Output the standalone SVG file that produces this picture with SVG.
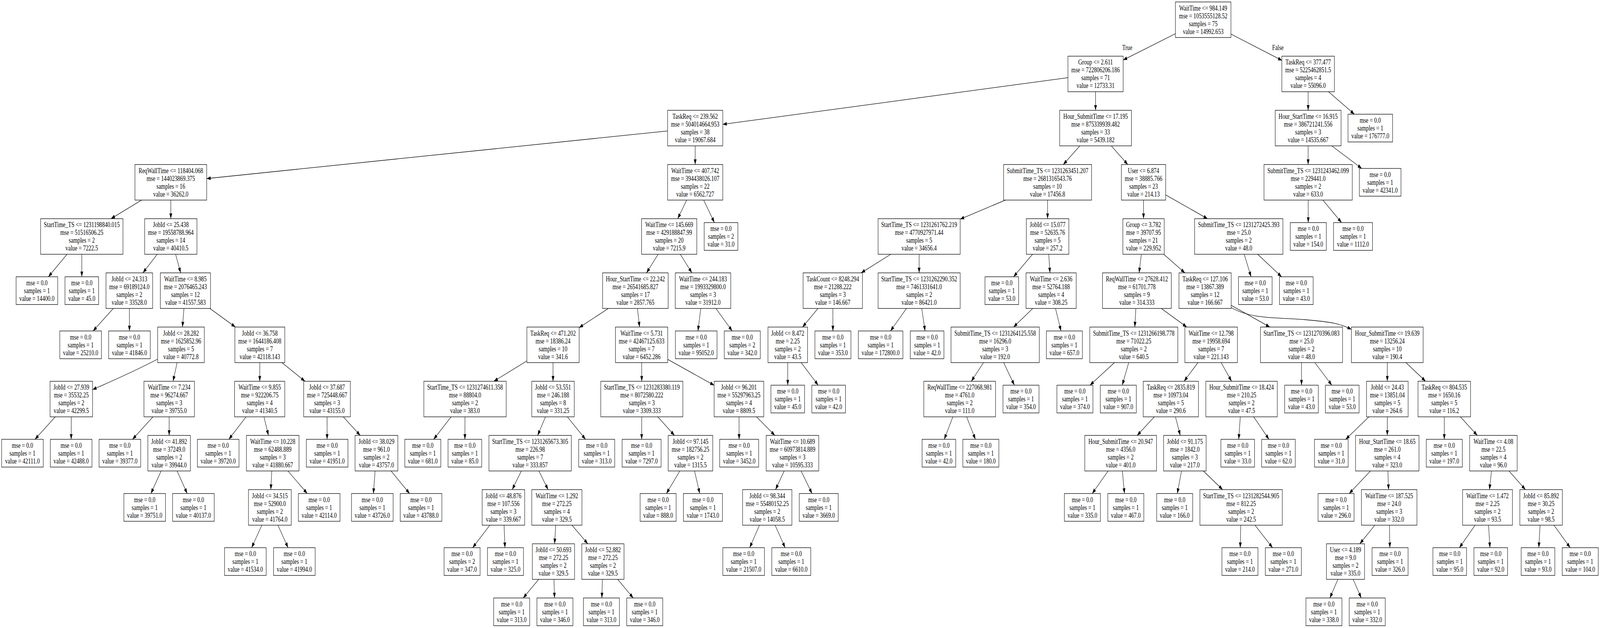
<svg xmlns="http://www.w3.org/2000/svg" width="5419" height="1607" viewBox="0 0 5419 1607" preserveAspectRatio="none">
<defs>
<style>
svg{width:100vw;height:100vh}
.nd rect{fill:#fff;stroke:#000;stroke-width:1.3}
.nd text,.lbl{font-family:"Liberation Serif","Times New Roman",serif;font-size:18.4px;text-anchor:middle;fill:#000}
#edges line,#edges path{stroke:#000;stroke-width:1.3;fill:none;marker-end:url(#ah)}
</style>
<marker id="ah" markerUnits="userSpaceOnUse" viewBox="0 0 13.3 9.4" markerWidth="13.3" markerHeight="9.4" refX="13.3" refY="4.7" orient="auto" overflow="visible"><path d="M0,0L13.3,4.7L0,9.4z" fill="#000"/></marker>
</defs>
<rect width="5419" height="1607" fill="#fff"/>
<g id="edges">
<line x1="4075" y1="50.5" x2="3804" y2="153.6"/>
<line x1="4075" y1="50.5" x2="4342" y2="154.7"/>
<line x1="3710.5" y1="189.2" x2="2448" y2="318.2"/>
<line x1="3710.5" y1="189.2" x2="3710.5" y2="282.3"/>
<line x1="4430.5" y1="189.2" x2="4430.5" y2="282.3"/>
<line x1="4430.5" y1="189.2" x2="4587.1" y2="292.3"/>
<line x1="2354.5" y1="327.8" x2="700" y2="457"/>
<line x1="2354.5" y1="327.8" x2="2354.5" y2="421"/>
<line x1="3710.5" y1="327.8" x2="3601.3" y2="421"/>
<line x1="3710.5" y1="327.8" x2="3819.7" y2="421"/>
<line x1="4430.5" y1="327.8" x2="4430.5" y2="421"/>
<line x1="4430.5" y1="327.8" x2="4612" y2="431"/>
<line x1="578.5" y1="466.5" x2="375.9" y2="559.6"/>
<line x1="578.5" y1="466.5" x2="578.5" y2="559.6"/>
<line x1="2354.5" y1="466.5" x2="2295.4" y2="559.6"/>
<line x1="2354.5" y1="466.5" x2="2419.6" y2="569.6"/>
<line x1="3548" y1="466.5" x2="3252" y2="560.8"/>
<line x1="3548" y1="466.5" x2="3548" y2="559.6"/>
<line x1="3873" y1="466.5" x2="3873" y2="559.6"/>
<line x1="3873" y1="466.5" x2="4089.7" y2="559.6"/>
<line x1="4430.5" y1="466.5" x2="4430.9" y2="569.6"/>
<line x1="4430.5" y1="466.5" x2="4543.6" y2="569.6"/>
<line x1="277" y1="605.1" x2="163.9" y2="708.3"/>
<line x1="277" y1="605.1" x2="277" y2="708.3"/>
<line x1="578.5" y1="605.1" x2="484.1" y2="698.3"/>
<line x1="578.5" y1="605.1" x2="611.8" y2="698.3"/>
<line x1="2266.5" y1="605.1" x2="2189.6" y2="698.3"/>
<line x1="2266.5" y1="605.1" x2="2343.4" y2="698.3"/>
<line x1="3113" y1="605.1" x2="2916.5" y2="698.3"/>
<line x1="3113" y1="605.1" x2="3113" y2="698.3"/>
<line x1="3548" y1="605.1" x2="3432.7" y2="708.3"/>
<line x1="3548" y1="605.1" x2="3556.1" y2="698.3"/>
<line x1="3873" y1="605.1" x2="3857.9" y2="698.3"/>
<line x1="3873" y1="605.1" x2="4013.1" y2="698.3"/>
<line x1="4195.5" y1="605.1" x2="4237.2" y2="708.3"/>
<line x1="4195.5" y1="605.1" x2="4340.6" y2="708.3"/>
<line x1="438" y1="743.8" x2="315.2" y2="846.9"/>
<line x1="438" y1="743.8" x2="438.4" y2="846.9"/>
<line x1="628" y1="743.8" x2="617.9" y2="836.9"/>
<line x1="628" y1="743.8" x2="797.3" y2="836.9"/>
<line x1="2152" y1="743.8" x2="1961.5" y2="838.4"/>
<line x1="2152" y1="743.8" x2="2166.1" y2="836.9"/>
<line x1="2381" y1="743.8" x2="2363.9" y2="846.9"/>
<line x1="2381" y1="743.8" x2="2479.9" y2="846.9"/>
<line x1="2820.5" y1="743.8" x2="2718" y2="836.9"/>
<line x1="2820.5" y1="743.8" x2="2820.9" y2="846.9"/>
<line x1="3113" y1="743.8" x2="3015.9" y2="846.9"/>
<line x1="3113" y1="743.8" x2="3133.1" y2="846.9"/>
<line x1="3560" y1="743.8" x2="3432.7" y2="836.9"/>
<line x1="3560" y1="743.8" x2="3593.5" y2="846.9"/>
<line x1="3850.5" y1="743.8" x2="3843.4" y2="836.9"/>
<line x1="3850.5" y1="743.8" x2="4019.5" y2="836.9"/>
<line x1="4081.5" y1="743.8" x2="4300.9" y2="836.9"/>
<path d="M4170,787C4240,818 4330,812 4420,818S4540,828 4577,843"/>
<path d="M534,919Q450,952 313.5,997"/>
<line x1="613" y1="882.4" x2="586.1" y2="975.6"/>
<line x1="880" y1="882.4" x2="879.7" y2="975.6"/>
<line x1="880" y1="882.4" x2="1032.9" y2="975.6"/>
<line x1="1873" y1="882.4" x2="1672.8" y2="975.6"/>
<line x1="1873" y1="882.4" x2="1873" y2="975.6"/>
<line x1="2173" y1="882.4" x2="2173.5" y2="975.6"/>
<line x1="2173" y1="882.4" x2="2418.7" y2="985.8"/>
<line x1="2668" y1="882.4" x2="2668" y2="985.6"/>
<line x1="2668" y1="882.4" x2="2771" y2="985.6"/>
<line x1="3370.5" y1="882.4" x2="3289.7" y2="975.6"/>
<line x1="3370.5" y1="882.4" x2="3435.6" y2="985.6"/>
<line x1="3840" y1="882.4" x2="3691.7" y2="985.6"/>
<line x1="3840" y1="882.4" x2="3801" y2="985.6"/>
<line x1="4102" y1="882.4" x2="4010.3" y2="975.6"/>
<line x1="4102" y1="882.4" x2="4171.2" y2="975.6"/>
<line x1="4408" y1="882.4" x2="4408" y2="985.6"/>
<line x1="4408" y1="882.4" x2="4510.7" y2="985.6"/>
<line x1="4698.5" y1="882.4" x2="4698.6" y2="975.6"/>
<line x1="4698.5" y1="882.4" x2="4828.2" y2="975.6"/>
<line x1="241.5" y1="1021.1" x2="118.4" y2="1124.2"/>
<line x1="241.5" y1="1021.1" x2="241.1" y2="1124.2"/>
<line x1="573" y1="1021.1" x2="448.8" y2="1124.2"/>
<line x1="573" y1="1021.1" x2="572.9" y2="1114.2"/>
<line x1="879.5" y1="1021.1" x2="775" y2="1124.2"/>
<line x1="879.5" y1="1021.1" x2="909.2" y2="1114.2"/>
<line x1="1107.6" y1="1021.1" x2="1107.9" y2="1124.2"/>
<line x1="1107.6" y1="1021.1" x2="1220.1" y2="1114.2"/>
<line x1="1575" y1="1021.1" x2="1468.6" y2="1124.2"/>
<line x1="1575" y1="1021.1" x2="1574.6" y2="1124.2"/>
<line x1="1873" y1="1021.1" x2="1820.9" y2="1114.2"/>
<line x1="1873" y1="1021.1" x2="1983.1" y2="1124.2"/>
<line x1="2173.7" y1="1021.1" x2="2173.2" y2="1124.2"/>
<line x1="2173.7" y1="1021.1" x2="2284.4" y2="1114.2"/>
<line x1="2502.7" y1="1021.1" x2="2503.3" y2="1124.2"/>
<line x1="2502.7" y1="1021.1" x2="2624.5" y2="1114.2"/>
<line x1="3250.3" y1="1021.1" x2="3198" y2="1124.2"/>
<line x1="3250.3" y1="1021.1" x2="3303.6" y2="1124.2"/>
<line x1="3965.5" y1="1021.1" x2="3851.3" y2="1114.2"/>
<line x1="3965.5" y1="1021.1" x2="3997.4" y2="1114.2"/>
<line x1="4205" y1="1021.1" x2="4195.3" y2="1124.2"/>
<line x1="4205" y1="1021.1" x2="4298" y2="1124.2"/>
<line x1="4698.7" y1="1021.1" x2="4557.6" y2="1124.2"/>
<line x1="4698.7" y1="1021.1" x2="4698.6" y2="1114.2"/>
<line x1="4891.6" y1="1021.1" x2="4891.6" y2="1124.2"/>
<line x1="4891.6" y1="1021.1" x2="5003.4" y2="1114.2"/>
<line x1="572.8" y1="1159.7" x2="511.2" y2="1262.9"/>
<line x1="572.8" y1="1159.7" x2="634" y2="1262.9"/>
<line x1="923.7" y1="1159.7" x2="917.2" y2="1252.9"/>
<line x1="923.7" y1="1159.7" x2="1040.7" y2="1262.9"/>
<line x1="1275" y1="1159.7" x2="1264.6" y2="1262.9"/>
<line x1="1275" y1="1159.7" x2="1387.3" y2="1262.9"/>
<line x1="1795.5" y1="1159.7" x2="1734.7" y2="1252.9"/>
<line x1="1795.5" y1="1159.7" x2="1856.3" y2="1252.9"/>
<line x1="2338.5" y1="1159.7" x2="2257" y2="1262.9"/>
<line x1="2338.5" y1="1159.7" x2="2369.9" y2="1262.9"/>
<line x1="2684" y1="1159.7" x2="2626.6" y2="1252.9"/>
<line x1="2684" y1="1159.7" x2="2750.2" y2="1262.9"/>
<line x1="3795.5" y1="1159.7" x2="3699.2" y2="1262.9"/>
<line x1="3795.5" y1="1159.7" x2="3808.5" y2="1262.9"/>
<line x1="4013" y1="1159.7" x2="3987.3" y2="1262.9"/>
<line x1="4013" y1="1159.7" x2="4141" y2="1252.9"/>
<line x1="4698.5" y1="1159.7" x2="4569.4" y2="1262.9"/>
<line x1="4698.5" y1="1159.7" x2="4702.9" y2="1252.9"/>
<line x1="5058" y1="1159.7" x2="5044.6" y2="1252.9"/>
<line x1="5058" y1="1159.7" x2="5166.5" y2="1252.9"/>
<line x1="914" y1="1298.4" x2="852.3" y2="1401.5"/>
<line x1="914" y1="1298.4" x2="975.7" y2="1401.5"/>
<line x1="1705" y1="1298.4" x2="1600.8" y2="1401.5"/>
<line x1="1705" y1="1298.4" x2="1710.2" y2="1401.5"/>
<line x1="1886" y1="1298.4" x2="1878.3" y2="1391.5"/>
<line x1="1886" y1="1298.4" x2="1990.8" y2="1391.5"/>
<line x1="2598.5" y1="1298.4" x2="2539.1" y2="1401.5"/>
<line x1="2598.5" y1="1298.4" x2="2659.1" y2="1401.5"/>
<line x1="4203.5" y1="1298.4" x2="4200.5" y2="1401.5"/>
<line x1="4203.5" y1="1298.4" x2="4309.9" y2="1401.5"/>
<line x1="4705" y1="1298.4" x2="4605.6" y2="1391.5"/>
<line x1="4705" y1="1298.4" x2="4707.2" y2="1401.5"/>
<line x1="5038" y1="1298.4" x2="4942.8" y2="1401.5"/>
<line x1="5038" y1="1298.4" x2="5046.2" y2="1401.5"/>
<line x1="5219.5" y1="1298.4" x2="5211.7" y2="1401.5"/>
<line x1="5219.5" y1="1298.4" x2="5318.1" y2="1401.5"/>
<line x1="1874.5" y1="1437" x2="1772" y2="1530.2"/>
<line x1="1874.5" y1="1437" x2="1878.1" y2="1530.2"/>
<line x1="2042" y1="1437" x2="2038.4" y2="1530.2"/>
<line x1="2042" y1="1437" x2="2144.6" y2="1530.2"/>
<line x1="4557" y1="1437" x2="4504.1" y2="1530.2"/>
<line x1="4557" y1="1437" x2="4610.3" y2="1530.2"/>
</g>
<text class="lbl" x="3818" y="128.5">True</text>
<text class="lbl" x="4328" y="128.5">False</text>
<g id="n0" class="nd"><rect x="3981" y="5" width="188" height="91"/><text x="4075" y="26.7">WaitTime &lt;= 984.149<tspan x="4075" dy="20">mse = 1053555128.52</tspan><tspan x="4075" dy="20">samples = 75</tspan><tspan x="4075" dy="20">value = 14992.653</tspan></text></g>
<g id="n1" class="nd"><rect x="3617" y="143.7" width="187" height="91"/><text x="3710.5" y="165.4">Group &lt;= 2.611<tspan x="3710.5" dy="20">mse = 722806206.186</tspan><tspan x="3710.5" dy="20">samples = 71</tspan><tspan x="3710.5" dy="20">value = 12733.31</tspan></text></g>
<g id="n2" class="nd"><rect x="4341.5" y="143.7" width="178" height="91"/><text x="4430.5" y="165.4">TaskReq &lt;= 377.477<tspan x="4430.5" dy="20">mse = 5225462851.5</tspan><tspan x="4430.5" dy="20">samples = 4</tspan><tspan x="4430.5" dy="20">value = 55096.0</tspan></text></g>
<g id="n3" class="nd"><rect x="2261" y="282.3" width="187" height="91"/><text x="2354.5" y="304">TaskReq &lt;= 239.562<tspan x="2354.5" dy="20">mse = 504014664.953</tspan><tspan x="2354.5" dy="20">samples = 38</tspan><tspan x="2354.5" dy="20">value = 19067.684</tspan></text></g>
<g id="n4" class="nd"><rect x="3589" y="282.3" width="243" height="91"/><text x="3710.5" y="304">Hour_SubmitTime &lt;= 17.195<tspan x="3710.5" dy="20">mse = 875339939.482</tspan><tspan x="3710.5" dy="20">samples = 33</tspan><tspan x="3710.5" dy="20">value = 5439.182</tspan></text></g>
<g id="n5" class="nd"><rect x="4319" y="282.3" width="223" height="91"/><text x="4430.5" y="304">Hour_StartTime &lt;= 16.915<tspan x="4430.5" dy="20">mse = 386721241.556</tspan><tspan x="4430.5" dy="20">samples = 3</tspan><tspan x="4430.5" dy="20">value = 14535.667</tspan></text></g>
<g id="n6" class="nd"><rect x="4565.5" y="292.3" width="151" height="71"/><text x="4641" y="314">mse = 0.0<tspan x="4641" dy="20">samples = 1</tspan><tspan x="4641" dy="20">value = 176777.0</tspan></text></g>
<g id="n7" class="nd"><rect x="457" y="421" width="243" height="91"/><text x="578.5" y="442.7">ReqWallTime &lt;= 118404.068<tspan x="578.5" dy="20">mse = 144023869.375</tspan><tspan x="578.5" dy="20">samples = 16</tspan><tspan x="578.5" dy="20">value = 36262.0</tspan></text></g>
<g id="n8" class="nd"><rect x="2261" y="421" width="187" height="91"/><text x="2354.5" y="442.7">WaitTime &lt;= 407.742<tspan x="2354.5" dy="20">mse = 394438026.107</tspan><tspan x="2354.5" dy="20">samples = 22</tspan><tspan x="2354.5" dy="20">value = 6562.727</tspan></text></g>
<g id="n9" class="nd"><rect x="3399" y="421" width="298" height="91"/><text x="3548" y="442.7">SubmitTime_TS &lt;= 1231263451.207<tspan x="3548" dy="20">mse = 2681316543.76</tspan><tspan x="3548" dy="20">samples = 10</tspan><tspan x="3548" dy="20">value = 17456.8</tspan></text></g>
<g id="n10" class="nd"><rect x="3798" y="421" width="150" height="91"/><text x="3873" y="442.7">User &lt;= 6.874<tspan x="3873" dy="20">mse = 38885.766</tspan><tspan x="3873" dy="20">samples = 23</tspan><tspan x="3873" dy="20">value = 214.13</tspan></text></g>
<g id="n11" class="nd"><rect x="4281" y="421" width="299" height="91"/><text x="4430.5" y="442.7">SubmitTime_TS &lt;= 1231243462.099<tspan x="4430.5" dy="20">mse = 229441.0</tspan><tspan x="4430.5" dy="20">samples = 2</tspan><tspan x="4430.5" dy="20">value = 633.0</tspan></text></g>
<g id="n12" class="nd"><rect x="4604" y="431" width="141" height="71"/><text x="4674.5" y="452.7">mse = 0.0<tspan x="4674.5" dy="20">samples = 1</tspan><tspan x="4674.5" dy="20">value = 42341.0</tspan></text></g>
<g id="n13" class="nd"><rect x="137.5" y="559.6" width="279" height="91"/><text x="277" y="581.3">StartTime_TS &lt;= 1231198840.015<tspan x="277" dy="20">mse = 51516506.25</tspan><tspan x="277" dy="20">samples = 2</tspan><tspan x="277" dy="20">value = 7222.5</tspan></text></g>
<g id="n14" class="nd"><rect x="490" y="559.6" width="177" height="91"/><text x="578.5" y="581.3">JobId &lt;= 25.438<tspan x="578.5" dy="20">mse = 19558788.964</tspan><tspan x="578.5" dy="20">samples = 14</tspan><tspan x="578.5" dy="20">value = 40410.5</tspan></text></g>
<g id="n15" class="nd"><rect x="2173" y="559.6" width="187" height="91"/><text x="2266.5" y="581.3">WaitTime &lt;= 145.669<tspan x="2266.5" dy="20">mse = 429188847.99</tspan><tspan x="2266.5" dy="20">samples = 20</tspan><tspan x="2266.5" dy="20">value = 7215.9</tspan></text></g>
<g id="n16" class="nd"><rect x="2385" y="569.6" width="114" height="71"/><text x="2442" y="591.3">mse = 0.0<tspan x="2442" dy="20">samples = 2</tspan><tspan x="2442" dy="20">value = 31.0</tspan></text></g>
<g id="n17" class="nd"><rect x="2974" y="559.6" width="278" height="91"/><text x="3113" y="581.3">StartTime_TS &lt;= 1231261762.219<tspan x="3113" dy="20">mse = 4770927971.44</tspan><tspan x="3113" dy="20">samples = 5</tspan><tspan x="3113" dy="20">value = 34656.4</tspan></text></g>
<g id="n18" class="nd"><rect x="3476" y="559.6" width="144" height="91"/><text x="3548" y="581.3">JobId &lt;= 15.077<tspan x="3548" dy="20">mse = 52635.76</tspan><tspan x="3548" dy="20">samples = 5</tspan><tspan x="3548" dy="20">value = 257.2</tspan></text></g>
<g id="n19" class="nd"><rect x="3803" y="559.6" width="140" height="91"/><text x="3873" y="581.3">Group &lt;= 3.782<tspan x="3873" dy="20">mse = 39707.95</tspan><tspan x="3873" dy="20">samples = 21</tspan><tspan x="3873" dy="20">value = 229.952</tspan></text></g>
<g id="n20" class="nd"><rect x="4046" y="559.6" width="299" height="91"/><text x="4195.5" y="581.3">SubmitTime_TS &lt;= 1231272425.393<tspan x="4195.5" dy="20">mse = 25.0</tspan><tspan x="4195.5" dy="20">samples = 2</tspan><tspan x="4195.5" dy="20">value = 48.0</tspan></text></g>
<g id="n21" class="nd"><rect x="4370" y="569.6" width="122" height="71"/><text x="4431" y="591.3">mse = 0.0<tspan x="4431" dy="20">samples = 1</tspan><tspan x="4431" dy="20">value = 154.0</tspan></text></g>
<g id="n22" class="nd"><rect x="4516.5" y="569.6" width="132" height="71"/><text x="4582.5" y="591.3">mse = 0.0<tspan x="4582.5" dy="20">samples = 1</tspan><tspan x="4582.5" dy="20">value = 1112.0</tspan></text></g>
<g id="n23" class="nd"><rect x="54.5" y="708.3" width="141" height="71"/><text x="125" y="730">mse = 0.0<tspan x="125" dy="20">samples = 1</tspan><tspan x="125" dy="20">value = 14400.0</tspan></text></g>
<g id="n24" class="nd"><rect x="220" y="708.3" width="114" height="71"/><text x="277" y="730">mse = 0.0<tspan x="277" dy="20">samples = 1</tspan><tspan x="277" dy="20">value = 45.0</tspan></text></g>
<g id="n25" class="nd"><rect x="359" y="698.3" width="158" height="91"/><text x="438" y="720">JobId &lt;= 24.313<tspan x="438" dy="20">mse = 69189124.0</tspan><tspan x="438" dy="20">samples = 2</tspan><tspan x="438" dy="20">value = 33528.0</tspan></text></g>
<g id="n26" class="nd"><rect x="543" y="698.3" width="170" height="91"/><text x="628" y="720">WaitTime &lt;= 8.985<tspan x="628" dy="20">mse = 2076465.243</tspan><tspan x="628" dy="20">samples = 12</tspan><tspan x="628" dy="20">value = 41557.583</tspan></text></g>
<g id="n27" class="nd"><rect x="2041" y="698.3" width="222" height="91"/><text x="2152" y="720">Hour_StartTime &lt;= 22.242<tspan x="2152" dy="20">mse = 26541685.827</tspan><tspan x="2152" dy="20">samples = 17</tspan><tspan x="2152" dy="20">value = 2857.765</tspan></text></g>
<g id="n28" class="nd"><rect x="2287" y="698.3" width="188" height="91"/><text x="2381" y="720">WaitTime &lt;= 244.183<tspan x="2381" dy="20">mse = 1993329800.0</tspan><tspan x="2381" dy="20">samples = 3</tspan><tspan x="2381" dy="20">value = 31912.0</tspan></text></g>
<g id="n29" class="nd"><rect x="2720" y="698.3" width="201" height="91"/><text x="2820.5" y="720">TaskCount &lt;= 8248.294<tspan x="2820.5" dy="20">mse = 21288.222</tspan><tspan x="2820.5" dy="20">samples = 3</tspan><tspan x="2820.5" dy="20">value = 146.667</tspan></text></g>
<g id="n30" class="nd"><rect x="2974" y="698.3" width="278" height="91"/><text x="3113" y="720">StartTime_TS &lt;= 1231262290.352<tspan x="3113" dy="20">mse = 7461331641.0</tspan><tspan x="3113" dy="20">samples = 2</tspan><tspan x="3113" dy="20">value = 86421.0</tspan></text></g>
<g id="n31" class="nd"><rect x="3336" y="708.3" width="114" height="71"/><text x="3393" y="730">mse = 0.0<tspan x="3393" dy="20">samples = 1</tspan><tspan x="3393" dy="20">value = 53.0</tspan></text></g>
<g id="n32" class="nd"><rect x="3475" y="698.3" width="170" height="91"/><text x="3560" y="720">WaitTime &lt;= 2.636<tspan x="3560" dy="20">mse = 52764.188</tspan><tspan x="3560" dy="20">samples = 4</tspan><tspan x="3560" dy="20">value = 308.25</tspan></text></g>
<g id="n33" class="nd"><rect x="3734" y="698.3" width="233" height="91"/><text x="3850.5" y="720">ReqWallTime &lt;= 27628.412<tspan x="3850.5" dy="20">mse = 61701.778</tspan><tspan x="3850.5" dy="20">samples = 9</tspan><tspan x="3850.5" dy="20">value = 314.333</tspan></text></g>
<g id="n34" class="nd"><rect x="3993" y="698.3" width="177" height="91"/><text x="4081.5" y="720">TaskReq &lt;= 127.106<tspan x="4081.5" dy="20">mse = 13867.389</tspan><tspan x="4081.5" dy="20">samples = 12</tspan><tspan x="4081.5" dy="20">value = 166.667</tspan></text></g>
<g id="n35" class="nd"><rect x="4194.5" y="708.3" width="114" height="71"/><text x="4251.5" y="730">mse = 0.0<tspan x="4251.5" dy="20">samples = 1</tspan><tspan x="4251.5" dy="20">value = 53.0</tspan></text></g>
<g id="n36" class="nd"><rect x="4333.5" y="708.3" width="114" height="71"/><text x="4390.5" y="730">mse = 0.0<tspan x="4390.5" dy="20">samples = 1</tspan><tspan x="4390.5" dy="20">value = 43.0</tspan></text></g>
<g id="n37" class="nd"><rect x="202.5" y="846.9" width="141" height="71"/><text x="273" y="868.6">mse = 0.0<tspan x="273" dy="20">samples = 1</tspan><tspan x="273" dy="20">value = 25210.0</tspan></text></g>
<g id="n38" class="nd"><rect x="368" y="846.9" width="141" height="71"/><text x="438.5" y="868.6">mse = 0.0<tspan x="438.5" dy="20">samples = 1</tspan><tspan x="438.5" dy="20">value = 41846.0</tspan></text></g>
<g id="n39" class="nd"><rect x="534" y="836.9" width="158" height="91"/><text x="613" y="858.6">JobId &lt;= 28.282<tspan x="613" dy="20">mse = 1625852.96</tspan><tspan x="613" dy="20">samples = 5</tspan><tspan x="613" dy="20">value = 40772.8</tspan></text></g>
<g id="n40" class="nd"><rect x="795.5" y="836.9" width="169" height="91"/><text x="880" y="858.6">JobId &lt;= 36.758<tspan x="880" dy="20">mse = 1644186.408</tspan><tspan x="880" dy="20">samples = 7</tspan><tspan x="880" dy="20">value = 42118.143</tspan></text></g>
<g id="n41" class="nd"><rect x="1784.5" y="836.9" width="177" height="91"/><text x="1873" y="858.6">TaskReq &lt;= 471.202<tspan x="1873" dy="20">mse = 18386.24</tspan><tspan x="1873" dy="20">samples = 10</tspan><tspan x="1873" dy="20">value = 341.6</tspan></text></g>
<g id="n42" class="nd"><rect x="2084.5" y="836.9" width="177" height="91"/><text x="2173" y="858.6">WaitTime &lt;= 5.731<tspan x="2173" dy="20">mse = 42467125.633</tspan><tspan x="2173" dy="20">samples = 7</tspan><tspan x="2173" dy="20">value = 6452.286</tspan></text></g>
<g id="n43" class="nd"><rect x="2287.5" y="846.9" width="141" height="71"/><text x="2358" y="868.6">mse = 0.0<tspan x="2358" dy="20">samples = 1</tspan><tspan x="2358" dy="20">value = 95052.0</tspan></text></g>
<g id="n44" class="nd"><rect x="2453" y="846.9" width="122" height="71"/><text x="2514" y="868.6">mse = 0.0<tspan x="2514" dy="20">samples = 2</tspan><tspan x="2514" dy="20">value = 342.0</tspan></text></g>
<g id="n45" class="nd"><rect x="2601" y="836.9" width="134" height="91"/><text x="2668" y="858.6">JobId &lt;= 8.472<tspan x="2668" dy="20">mse = 2.25</tspan><tspan x="2668" dy="20">samples = 2</tspan><tspan x="2668" dy="20">value = 43.5</tspan></text></g>
<g id="n46" class="nd"><rect x="2760" y="846.9" width="122" height="71"/><text x="2821" y="868.6">mse = 0.0<tspan x="2821" dy="20">samples = 1</tspan><tspan x="2821" dy="20">value = 353.0</tspan></text></g>
<g id="n47" class="nd"><rect x="2907" y="846.9" width="151" height="71"/><text x="2982.5" y="868.6">mse = 0.0<tspan x="2982.5" dy="20">samples = 1</tspan><tspan x="2982.5" dy="20">value = 172800.0</tspan></text></g>
<g id="n48" class="nd"><rect x="3083" y="846.9" width="114" height="71"/><text x="3140" y="868.6">mse = 0.0<tspan x="3140" dy="20">samples = 1</tspan><tspan x="3140" dy="20">value = 42.0</tspan></text></g>
<g id="n49" class="nd"><rect x="3221" y="836.9" width="299" height="91"/><text x="3370.5" y="858.6">SubmitTime_TS &lt;= 1231264125.558<tspan x="3370.5" dy="20">mse = 16296.0</tspan><tspan x="3370.5" dy="20">samples = 3</tspan><tspan x="3370.5" dy="20">value = 192.0</tspan></text></g>
<g id="n50" class="nd"><rect x="3544" y="846.9" width="122" height="71"/><text x="3605" y="868.6">mse = 0.0<tspan x="3605" dy="20">samples = 1</tspan><tspan x="3605" dy="20">value = 657.0</tspan></text></g>
<g id="n51" class="nd"><rect x="3691" y="836.9" width="298" height="91"/><text x="3840" y="858.6">SubmitTime_TS &lt;= 1231266198.778<tspan x="3840" dy="20">mse = 71022.25</tspan><tspan x="3840" dy="20">samples = 2</tspan><tspan x="3840" dy="20">value = 640.5</tspan></text></g>
<g id="n52" class="nd"><rect x="4013" y="836.9" width="178" height="91"/><text x="4102" y="858.6">WaitTime &lt;= 12.798<tspan x="4102" dy="20">mse = 19958.694</tspan><tspan x="4102" dy="20">samples = 7</tspan><tspan x="4102" dy="20">value = 221.143</tspan></text></g>
<g id="n53" class="nd"><rect x="4269" y="836.9" width="278" height="91"/><text x="4408" y="858.6">StartTime_TS &lt;= 1231270396.083<tspan x="4408" dy="20">mse = 25.0</tspan><tspan x="4408" dy="20">samples = 2</tspan><tspan x="4408" dy="20">value = 48.0</tspan></text></g>
<g id="n54" class="nd"><rect x="4577" y="836.9" width="243" height="91"/><text x="4698.5" y="858.6">Hour_SubmitTime &lt;= 19.639<tspan x="4698.5" dy="20">mse = 13256.24</tspan><tspan x="4698.5" dy="20">samples = 10</tspan><tspan x="4698.5" dy="20">value = 190.4</tspan></text></g>
<g id="n55" class="nd"><rect x="169.5" y="975.6" width="144" height="91"/><text x="241.5" y="997.3">JobId &lt;= 27.939<tspan x="241.5" dy="20">mse = 35532.25</tspan><tspan x="241.5" dy="20">samples = 2</tspan><tspan x="241.5" dy="20">value = 42299.5</tspan></text></g>
<g id="n56" class="nd"><rect x="487.5" y="975.6" width="171" height="91"/><text x="573" y="997.3">WaitTime &lt;= 7.234<tspan x="573" dy="20">mse = 96274.667</tspan><tspan x="573" dy="20">samples = 3</tspan><tspan x="573" dy="20">value = 39755.0</tspan></text></g>
<g id="n57" class="nd"><rect x="794.5" y="975.6" width="170" height="91"/><text x="879.5" y="997.3">WaitTime &lt;= 9.855<tspan x="879.5" dy="20">mse = 922206.75</tspan><tspan x="879.5" dy="20">samples = 4</tspan><tspan x="879.5" dy="20">value = 41340.5</tspan></text></g>
<g id="n58" class="nd"><rect x="1028.6" y="975.6" width="158" height="91"/><text x="1107.6" y="997.3">JobId &lt;= 37.687<tspan x="1107.6" dy="20">mse = 725448.667</tspan><tspan x="1107.6" dy="20">samples = 3</tspan><tspan x="1107.6" dy="20">value = 43155.0</tspan></text></g>
<g id="n59" class="nd"><rect x="1435.5" y="975.6" width="279" height="91"/><text x="1575" y="997.3">StartTime_TS &lt;= 1231274611.358<tspan x="1575" dy="20">mse = 88804.0</tspan><tspan x="1575" dy="20">samples = 2</tspan><tspan x="1575" dy="20">value = 383.0</tspan></text></g>
<g id="n60" class="nd"><rect x="1801" y="975.6" width="144" height="91"/><text x="1873" y="997.3">JobId &lt;= 53.551<tspan x="1873" dy="20">mse = 246.188</tspan><tspan x="1873" dy="20">samples = 8</tspan><tspan x="1873" dy="20">value = 331.25</tspan></text></g>
<g id="n61" class="nd"><rect x="2034.7" y="975.6" width="278" height="91"/><text x="2173.7" y="997.3">StartTime_TS &lt;= 1231283380.119<tspan x="2173.7" dy="20">mse = 8072580.222</tspan><tspan x="2173.7" dy="20">samples = 3</tspan><tspan x="2173.7" dy="20">value = 3309.333</tspan></text></g>
<g id="n62" class="nd"><rect x="2418.7" y="975.6" width="168" height="91"/><text x="2502.7" y="997.3">JobId &lt;= 96.201<tspan x="2502.7" dy="20">mse = 55297963.25</tspan><tspan x="2502.7" dy="20">samples = 4</tspan><tspan x="2502.7" dy="20">value = 8809.5</tspan></text></g>
<g id="n63" class="nd"><rect x="2611" y="985.6" width="114" height="71"/><text x="2668" y="1007.3">mse = 0.0<tspan x="2668" dy="20">samples = 1</tspan><tspan x="2668" dy="20">value = 45.0</tspan></text></g>
<g id="n64" class="nd"><rect x="2749.5" y="985.6" width="114" height="71"/><text x="2806.5" y="1007.3">mse = 0.0<tspan x="2806.5" dy="20">samples = 1</tspan><tspan x="2806.5" dy="20">value = 42.0</tspan></text></g>
<g id="n65" class="nd"><rect x="3128.8" y="975.6" width="243" height="91"/><text x="3250.3" y="997.3">ReqWallTime &lt;= 227068.981<tspan x="3250.3" dy="20">mse = 4761.0</tspan><tspan x="3250.3" dy="20">samples = 2</tspan><tspan x="3250.3" dy="20">value = 111.0</tspan></text></g>
<g id="n66" class="nd"><rect x="3397" y="985.6" width="122" height="71"/><text x="3458" y="1007.3">mse = 0.0<tspan x="3458" dy="20">samples = 1</tspan><tspan x="3458" dy="20">value = 354.0</tspan></text></g>
<g id="n67" class="nd"><rect x="3579.6" y="985.6" width="122" height="71"/><text x="3640.6" y="1007.3">mse = 0.0<tspan x="3640.6" dy="20">samples = 1</tspan><tspan x="3640.6" dy="20">value = 374.0</tspan></text></g>
<g id="n68" class="nd"><rect x="3726.6" y="985.6" width="122" height="71"/><text x="3787.6" y="1007.3">mse = 0.0<tspan x="3787.6" dy="20">samples = 1</tspan><tspan x="3787.6" dy="20">value = 907.0</tspan></text></g>
<g id="n69" class="nd"><rect x="3872" y="975.6" width="187" height="91"/><text x="3965.5" y="997.3">TaskReq &lt;= 2835.819<tspan x="3965.5" dy="20">mse = 10973.04</tspan><tspan x="3965.5" dy="20">samples = 5</tspan><tspan x="3965.5" dy="20">value = 290.6</tspan></text></g>
<g id="n70" class="nd"><rect x="4084" y="975.6" width="242" height="91"/><text x="4205" y="997.3">Hour_SubmitTime &lt;= 18.424<tspan x="4205" dy="20">mse = 210.25</tspan><tspan x="4205" dy="20">samples = 2</tspan><tspan x="4205" dy="20">value = 47.5</tspan></text></g>
<g id="n71" class="nd"><rect x="4351" y="985.6" width="114" height="71"/><text x="4408" y="1007.3">mse = 0.0<tspan x="4408" dy="20">samples = 1</tspan><tspan x="4408" dy="20">value = 43.0</tspan></text></g>
<g id="n72" class="nd"><rect x="4489" y="985.6" width="114" height="71"/><text x="4546" y="1007.3">mse = 0.0<tspan x="4546" dy="20">samples = 1</tspan><tspan x="4546" dy="20">value = 53.0</tspan></text></g>
<g id="n73" class="nd"><rect x="4628.2" y="975.6" width="141" height="91"/><text x="4698.7" y="997.3">JobId &lt;= 24.43<tspan x="4698.7" dy="20">mse = 13851.04</tspan><tspan x="4698.7" dy="20">samples = 5</tspan><tspan x="4698.7" dy="20">value = 264.6</tspan></text></g>
<g id="n74" class="nd"><rect x="4802.6" y="975.6" width="178" height="91"/><text x="4891.6" y="997.3">TaskReq &lt;= 804.535<tspan x="4891.6" dy="20">mse = 1650.16</tspan><tspan x="4891.6" dy="20">samples = 5</tspan><tspan x="4891.6" dy="20">value = 116.2</tspan></text></g>
<g id="n75" class="nd"><rect x="5.5" y="1124.2" width="141" height="71"/><text x="76" y="1145.9">mse = 0.0<tspan x="76" dy="20">samples = 1</tspan><tspan x="76" dy="20">value = 42111.0</tspan></text></g>
<g id="n76" class="nd"><rect x="170.5" y="1124.2" width="141" height="71"/><text x="241" y="1145.9">mse = 0.0<tspan x="241" dy="20">samples = 1</tspan><tspan x="241" dy="20">value = 42488.0</tspan></text></g>
<g id="n77" class="nd"><rect x="335.5" y="1124.2" width="141" height="71"/><text x="406" y="1145.9">mse = 0.0<tspan x="406" dy="20">samples = 1</tspan><tspan x="406" dy="20">value = 39377.0</tspan></text></g>
<g id="n78" class="nd"><rect x="500.8" y="1114.2" width="144" height="91"/><text x="572.8" y="1135.9">JobId &lt;= 41.892<tspan x="572.8" dy="20">mse = 37249.0</tspan><tspan x="572.8" dy="20">samples = 2</tspan><tspan x="572.8" dy="20">value = 39944.0</tspan></text></g>
<g id="n79" class="nd"><rect x="668.5" y="1124.2" width="141" height="71"/><text x="739" y="1145.9">mse = 0.0<tspan x="739" dy="20">samples = 1</tspan><tspan x="739" dy="20">value = 39720.0</tspan></text></g>
<g id="n80" class="nd"><rect x="834.7" y="1114.2" width="178" height="91"/><text x="923.7" y="1135.9">WaitTime &lt;= 10.228<tspan x="923.7" dy="20">mse = 62488.889</tspan><tspan x="923.7" dy="20">samples = 3</tspan><tspan x="923.7" dy="20">value = 41880.667</tspan></text></g>
<g id="n81" class="nd"><rect x="1037.5" y="1124.2" width="141" height="71"/><text x="1108" y="1145.9">mse = 0.0<tspan x="1108" dy="20">samples = 1</tspan><tspan x="1108" dy="20">value = 41951.0</tspan></text></g>
<g id="n82" class="nd"><rect x="1202.5" y="1114.2" width="145" height="91"/><text x="1275" y="1135.9">JobId &lt;= 38.029<tspan x="1275" dy="20">mse = 961.0</tspan><tspan x="1275" dy="20">samples = 2</tspan><tspan x="1275" dy="20">value = 43757.0</tspan></text></g>
<g id="n84" class="nd"><rect x="1371" y="1124.2" width="122" height="71"/><text x="1432" y="1145.9">mse = 0.0<tspan x="1432" dy="20">samples = 1</tspan><tspan x="1432" dy="20">value = 681.0</tspan></text></g>
<g id="n85" class="nd"><rect x="1517.5" y="1124.2" width="114" height="71"/><text x="1574.5" y="1145.9">mse = 0.0<tspan x="1574.5" dy="20">samples = 1</tspan><tspan x="1574.5" dy="20">value = 85.0</tspan></text></g>
<g id="n86" class="nd"><rect x="1656" y="1114.2" width="279" height="91"/><text x="1795.5" y="1135.9">StartTime_TS &lt;= 1231265673.305<tspan x="1795.5" dy="20">mse = 226.98</tspan><tspan x="1795.5" dy="20">samples = 7</tspan><tspan x="1795.5" dy="20">value = 333.857</tspan></text></g>
<g id="n87" class="nd"><rect x="1960" y="1124.2" width="122" height="71"/><text x="2021" y="1145.9">mse = 0.0<tspan x="2021" dy="20">samples = 1</tspan><tspan x="2021" dy="20">value = 313.0</tspan></text></g>
<g id="n88" class="nd"><rect x="2107" y="1124.2" width="132" height="71"/><text x="2173" y="1145.9">mse = 0.0<tspan x="2173" dy="20">samples = 1</tspan><tspan x="2173" dy="20">value = 7297.0</tspan></text></g>
<g id="n89" class="nd"><rect x="2263" y="1114.2" width="151" height="91"/><text x="2338.5" y="1135.9">JobId &lt;= 97.145<tspan x="2338.5" dy="20">mse = 182756.25</tspan><tspan x="2338.5" dy="20">samples = 2</tspan><tspan x="2338.5" dy="20">value = 1315.5</tspan></text></g>
<g id="n90" class="nd"><rect x="2437.5" y="1124.2" width="132" height="71"/><text x="2503.5" y="1145.9">mse = 0.0<tspan x="2503.5" dy="20">samples = 1</tspan><tspan x="2503.5" dy="20">value = 3452.0</tspan></text></g>
<g id="n91" class="nd"><rect x="2595" y="1114.2" width="178" height="91"/><text x="2684" y="1135.9">WaitTime &lt;= 10.689<tspan x="2684" dy="20">mse = 60973814.889</tspan><tspan x="2684" dy="20">samples = 3</tspan><tspan x="2684" dy="20">value = 10595.333</tspan></text></g>
<g id="n92" class="nd"><rect x="3123" y="1124.2" width="114" height="71"/><text x="3180" y="1145.9">mse = 0.0<tspan x="3180" dy="20">samples = 1</tspan><tspan x="3180" dy="20">value = 42.0</tspan></text></g>
<g id="n93" class="nd"><rect x="3261" y="1124.2" width="122" height="71"/><text x="3322" y="1145.9">mse = 0.0<tspan x="3322" dy="20">samples = 1</tspan><tspan x="3322" dy="20">value = 180.0</tspan></text></g>
<g id="n94" class="nd"><rect x="3674" y="1114.2" width="243" height="91"/><text x="3795.5" y="1135.9">Hour_SubmitTime &lt;= 20.947<tspan x="3795.5" dy="20">mse = 4356.0</tspan><tspan x="3795.5" dy="20">samples = 2</tspan><tspan x="3795.5" dy="20">value = 401.0</tspan></text></g>
<g id="n95" class="nd"><rect x="3941" y="1114.2" width="144" height="91"/><text x="4013" y="1135.9">JobId &lt;= 91.175<tspan x="4013" dy="20">mse = 1842.0</tspan><tspan x="4013" dy="20">samples = 3</tspan><tspan x="4013" dy="20">value = 217.0</tspan></text></g>
<g id="n96" class="nd"><rect x="4135" y="1124.2" width="114" height="71"/><text x="4192" y="1145.9">mse = 0.0<tspan x="4192" dy="20">samples = 1</tspan><tspan x="4192" dy="20">value = 33.0</tspan></text></g>
<g id="n97" class="nd"><rect x="4273" y="1124.2" width="114" height="71"/><text x="4330" y="1145.9">mse = 0.0<tspan x="4330" dy="20">samples = 1</tspan><tspan x="4330" dy="20">value = 62.0</tspan></text></g>
<g id="n98" class="nd"><rect x="4452" y="1124.2" width="114" height="71"/><text x="4509" y="1145.9">mse = 0.0<tspan x="4509" dy="20">samples = 1</tspan><tspan x="4509" dy="20">value = 31.0</tspan></text></g>
<g id="n99" class="nd"><rect x="4591" y="1114.2" width="215" height="91"/><text x="4698.5" y="1135.9">Hour_StartTime &lt;= 18.65<tspan x="4698.5" dy="20">mse = 261.0</tspan><tspan x="4698.5" dy="20">samples = 4</tspan><tspan x="4698.5" dy="20">value = 323.0</tspan></text></g>
<g id="n100" class="nd"><rect x="4830.6" y="1124.2" width="122" height="71"/><text x="4891.6" y="1145.9">mse = 0.0<tspan x="4891.6" dy="20">samples = 1</tspan><tspan x="4891.6" dy="20">value = 197.0</tspan></text></g>
<g id="n101" class="nd"><rect x="4977.5" y="1114.2" width="161" height="91"/><text x="5058" y="1135.9">WaitTime &lt;= 4.08<tspan x="5058" dy="20">mse = 22.5</tspan><tspan x="5058" dy="20">samples = 4</tspan><tspan x="5058" dy="20">value = 96.0</tspan></text></g>
<g id="n102" class="nd"><rect x="419.5" y="1262.9" width="141" height="71"/><text x="490" y="1284.6">mse = 0.0<tspan x="490" dy="20">samples = 1</tspan><tspan x="490" dy="20">value = 39751.0</tspan></text></g>
<g id="n103" class="nd"><rect x="584.5" y="1262.9" width="141" height="71"/><text x="655" y="1284.6">mse = 0.0<tspan x="655" dy="20">samples = 1</tspan><tspan x="655" dy="20">value = 40137.0</tspan></text></g>
<g id="n104" class="nd"><rect x="841.5" y="1252.9" width="145" height="91"/><text x="914" y="1274.6">JobId &lt;= 34.515<tspan x="914" dy="20">mse = 52900.0</tspan><tspan x="914" dy="20">samples = 2</tspan><tspan x="914" dy="20">value = 41764.0</tspan></text></g>
<g id="n105" class="nd"><rect x="1010.5" y="1262.9" width="141" height="71"/><text x="1081" y="1284.6">mse = 0.0<tspan x="1081" dy="20">samples = 1</tspan><tspan x="1081" dy="20">value = 42114.0</tspan></text></g>
<g id="n106" class="nd"><rect x="1190.5" y="1262.9" width="141" height="71"/><text x="1261" y="1284.6">mse = 0.0<tspan x="1261" dy="20">samples = 1</tspan><tspan x="1261" dy="20">value = 43726.0</tspan></text></g>
<g id="n107" class="nd"><rect x="1355.5" y="1262.9" width="141" height="71"/><text x="1426" y="1284.6">mse = 0.0<tspan x="1426" dy="20">samples = 1</tspan><tspan x="1426" dy="20">value = 43788.0</tspan></text></g>
<g id="n108" class="nd"><rect x="1633" y="1252.9" width="144" height="91"/><text x="1705" y="1274.6">JobId &lt;= 48.876<tspan x="1705" dy="20">mse = 107.556</tspan><tspan x="1705" dy="20">samples = 3</tspan><tspan x="1705" dy="20">value = 339.667</tspan></text></g>
<g id="n109" class="nd"><rect x="1801" y="1252.9" width="170" height="91"/><text x="1886" y="1274.6">WaitTime &lt;= 1.292<tspan x="1886" dy="20">mse = 272.25</tspan><tspan x="1886" dy="20">samples = 4</tspan><tspan x="1886" dy="20">value = 329.5</tspan></text></g>
<g id="n110" class="nd"><rect x="2168" y="1262.9" width="122" height="71"/><text x="2229" y="1284.6">mse = 0.0<tspan x="2229" dy="20">samples = 1</tspan><tspan x="2229" dy="20">value = 888.0</tspan></text></g>
<g id="n111" class="nd"><rect x="2314.7" y="1262.9" width="132" height="71"/><text x="2380.7" y="1284.6">mse = 0.0<tspan x="2380.7" dy="20">samples = 1</tspan><tspan x="2380.7" dy="20">value = 1743.0</tspan></text></g>
<g id="n112" class="nd"><rect x="2515" y="1252.9" width="167" height="91"/><text x="2598.5" y="1274.6">JobId &lt;= 98.344<tspan x="2598.5" dy="20">mse = 55480152.25</tspan><tspan x="2598.5" dy="20">samples = 2</tspan><tspan x="2598.5" dy="20">value = 14058.5</tspan></text></g>
<g id="n113" class="nd"><rect x="2707" y="1262.9" width="132" height="71"/><text x="2773" y="1284.6">mse = 0.0<tspan x="2773" dy="20">samples = 1</tspan><tspan x="2773" dy="20">value = 3669.0</tspan></text></g>
<g id="n114" class="nd"><rect x="3605" y="1262.9" width="122" height="71"/><text x="3666" y="1284.6">mse = 0.0<tspan x="3666" dy="20">samples = 1</tspan><tspan x="3666" dy="20">value = 335.0</tspan></text></g>
<g id="n115" class="nd"><rect x="3752" y="1262.9" width="122" height="71"/><text x="3813" y="1284.6">mse = 0.0<tspan x="3813" dy="20">samples = 1</tspan><tspan x="3813" dy="20">value = 467.0</tspan></text></g>
<g id="n116" class="nd"><rect x="3917.5" y="1262.9" width="122" height="71"/><text x="3978.5" y="1284.6">mse = 0.0<tspan x="3978.5" dy="20">samples = 1</tspan><tspan x="3978.5" dy="20">value = 166.0</tspan></text></g>
<g id="n117" class="nd"><rect x="4064" y="1252.9" width="279" height="91"/><text x="4203.5" y="1274.6">StartTime_TS &lt;= 1231282544.905<tspan x="4203.5" dy="20">mse = 812.25</tspan><tspan x="4203.5" dy="20">samples = 2</tspan><tspan x="4203.5" dy="20">value = 242.5</tspan></text></g>
<g id="n118" class="nd"><rect x="4464" y="1262.9" width="122" height="71"/><text x="4525" y="1284.6">mse = 0.0<tspan x="4525" dy="20">samples = 1</tspan><tspan x="4525" dy="20">value = 296.0</tspan></text></g>
<g id="n119" class="nd"><rect x="4611" y="1252.9" width="188" height="91"/><text x="4705" y="1274.6">WaitTime &lt;= 187.525<tspan x="4705" dy="20">mse = 24.0</tspan><tspan x="4705" dy="20">samples = 3</tspan><tspan x="4705" dy="20">value = 332.0</tspan></text></g>
<g id="n120" class="nd"><rect x="4953.5" y="1252.9" width="169" height="91"/><text x="5038" y="1274.6">WaitTime &lt;= 1.472<tspan x="5038" dy="20">mse = 2.25</tspan><tspan x="5038" dy="20">samples = 2</tspan><tspan x="5038" dy="20">value = 93.5</tspan></text></g>
<g id="n121" class="nd"><rect x="5147.5" y="1252.9" width="144" height="91"/><text x="5219.5" y="1274.6">JobId &lt;= 85.892<tspan x="5219.5" dy="20">mse = 30.25</tspan><tspan x="5219.5" dy="20">samples = 2</tspan><tspan x="5219.5" dy="20">value = 98.5</tspan></text></g>
<g id="n122" class="nd"><rect x="760.5" y="1401.5" width="141" height="71"/><text x="831" y="1423.2">mse = 0.0<tspan x="831" dy="20">samples = 1</tspan><tspan x="831" dy="20">value = 41534.0</tspan></text></g>
<g id="n123" class="nd"><rect x="926.5" y="1401.5" width="141" height="71"/><text x="997" y="1423.2">mse = 0.0<tspan x="997" dy="20">samples = 1</tspan><tspan x="997" dy="20">value = 41994.0</tspan></text></g>
<g id="n124" class="nd"><rect x="1504" y="1401.5" width="122" height="71"/><text x="1565" y="1423.2">mse = 0.0<tspan x="1565" dy="20">samples = 2</tspan><tspan x="1565" dy="20">value = 347.0</tspan></text></g>
<g id="n125" class="nd"><rect x="1651" y="1401.5" width="122" height="71"/><text x="1712" y="1423.2">mse = 0.0<tspan x="1712" dy="20">samples = 1</tspan><tspan x="1712" dy="20">value = 325.0</tspan></text></g>
<g id="n126" class="nd"><rect x="1803" y="1391.5" width="143" height="91"/><text x="1874.5" y="1413.2">JobId &lt;= 50.693<tspan x="1874.5" dy="20">mse = 272.25</tspan><tspan x="1874.5" dy="20">samples = 2</tspan><tspan x="1874.5" dy="20">value = 329.5</tspan></text></g>
<g id="n127" class="nd"><rect x="1970.5" y="1391.5" width="143" height="91"/><text x="2042" y="1413.2">JobId &lt;= 52.882<tspan x="2042" dy="20">mse = 272.25</tspan><tspan x="2042" dy="20">samples = 2</tspan><tspan x="2042" dy="20">value = 329.5</tspan></text></g>
<g id="n128" class="nd"><rect x="2448.1" y="1401.5" width="141" height="71"/><text x="2518.6" y="1423.2">mse = 0.0<tspan x="2518.6" dy="20">samples = 1</tspan><tspan x="2518.6" dy="20">value = 21507.0</tspan></text></g>
<g id="n129" class="nd"><rect x="2614" y="1401.5" width="132" height="71"/><text x="2680" y="1423.2">mse = 0.0<tspan x="2680" dy="20">samples = 1</tspan><tspan x="2680" dy="20">value = 6610.0</tspan></text></g>
<g id="n130" class="nd"><rect x="4138.5" y="1401.5" width="122" height="71"/><text x="4199.5" y="1423.2">mse = 0.0<tspan x="4199.5" dy="20">samples = 1</tspan><tspan x="4199.5" dy="20">value = 214.0</tspan></text></g>
<g id="n131" class="nd"><rect x="4285.5" y="1401.5" width="122" height="71"/><text x="4346.5" y="1423.2">mse = 0.0<tspan x="4346.5" dy="20">samples = 1</tspan><tspan x="4346.5" dy="20">value = 271.0</tspan></text></g>
<g id="n132" class="nd"><rect x="4492.5" y="1391.5" width="129" height="91"/><text x="4557" y="1413.2">User &lt;= 4.189<tspan x="4557" dy="20">mse = 9.0</tspan><tspan x="4557" dy="20">samples = 2</tspan><tspan x="4557" dy="20">value = 335.0</tspan></text></g>
<g id="n133" class="nd"><rect x="4647" y="1401.5" width="122" height="71"/><text x="4708" y="1423.2">mse = 0.0<tspan x="4708" dy="20">samples = 1</tspan><tspan x="4708" dy="20">value = 326.0</tspan></text></g>
<g id="n134" class="nd"><rect x="4853" y="1401.5" width="114" height="71"/><text x="4910" y="1423.2">mse = 0.0<tspan x="4910" dy="20">samples = 1</tspan><tspan x="4910" dy="20">value = 95.0</tspan></text></g>
<g id="n135" class="nd"><rect x="4992" y="1401.5" width="114" height="71"/><text x="5049" y="1423.2">mse = 0.0<tspan x="5049" dy="20">samples = 1</tspan><tspan x="5049" dy="20">value = 92.0</tspan></text></g>
<g id="n136" class="nd"><rect x="5152" y="1401.5" width="114" height="71"/><text x="5209" y="1423.2">mse = 0.0<tspan x="5209" dy="20">samples = 1</tspan><tspan x="5209" dy="20">value = 93.0</tspan></text></g>
<g id="n137" class="nd"><rect x="5291" y="1401.5" width="122" height="71"/><text x="5352" y="1423.2">mse = 0.0<tspan x="5352" dy="20">samples = 1</tspan><tspan x="5352" dy="20">value = 104.0</tspan></text></g>
<g id="n138" class="nd"><rect x="1672" y="1530.2" width="122" height="71"/><text x="1733" y="1551.9">mse = 0.0<tspan x="1733" dy="20">samples = 1</tspan><tspan x="1733" dy="20">value = 313.0</tspan></text></g>
<g id="n139" class="nd"><rect x="1818.5" y="1530.2" width="122" height="71"/><text x="1879.5" y="1551.9">mse = 0.0<tspan x="1879.5" dy="20">samples = 1</tspan><tspan x="1879.5" dy="20">value = 346.0</tspan></text></g>
<g id="n140" class="nd"><rect x="1976" y="1530.2" width="122" height="71"/><text x="2037" y="1551.9">mse = 0.0<tspan x="2037" dy="20">samples = 1</tspan><tspan x="2037" dy="20">value = 313.0</tspan></text></g>
<g id="n141" class="nd"><rect x="2122.7" y="1530.2" width="122" height="71"/><text x="2183.7" y="1551.9">mse = 0.0<tspan x="2183.7" dy="20">samples = 1</tspan><tspan x="2183.7" dy="20">value = 346.0</tspan></text></g>
<g id="n142" class="nd"><rect x="4423" y="1530.2" width="122" height="71"/><text x="4484" y="1551.9">mse = 0.0<tspan x="4484" dy="20">samples = 1</tspan><tspan x="4484" dy="20">value = 338.0</tspan></text></g>
<g id="n143" class="nd"><rect x="4569.6" y="1530.2" width="122" height="71"/><text x="4630.6" y="1551.9">mse = 0.0<tspan x="4630.6" dy="20">samples = 1</tspan><tspan x="4630.6" dy="20">value = 332.0</tspan></text></g>
</svg>
